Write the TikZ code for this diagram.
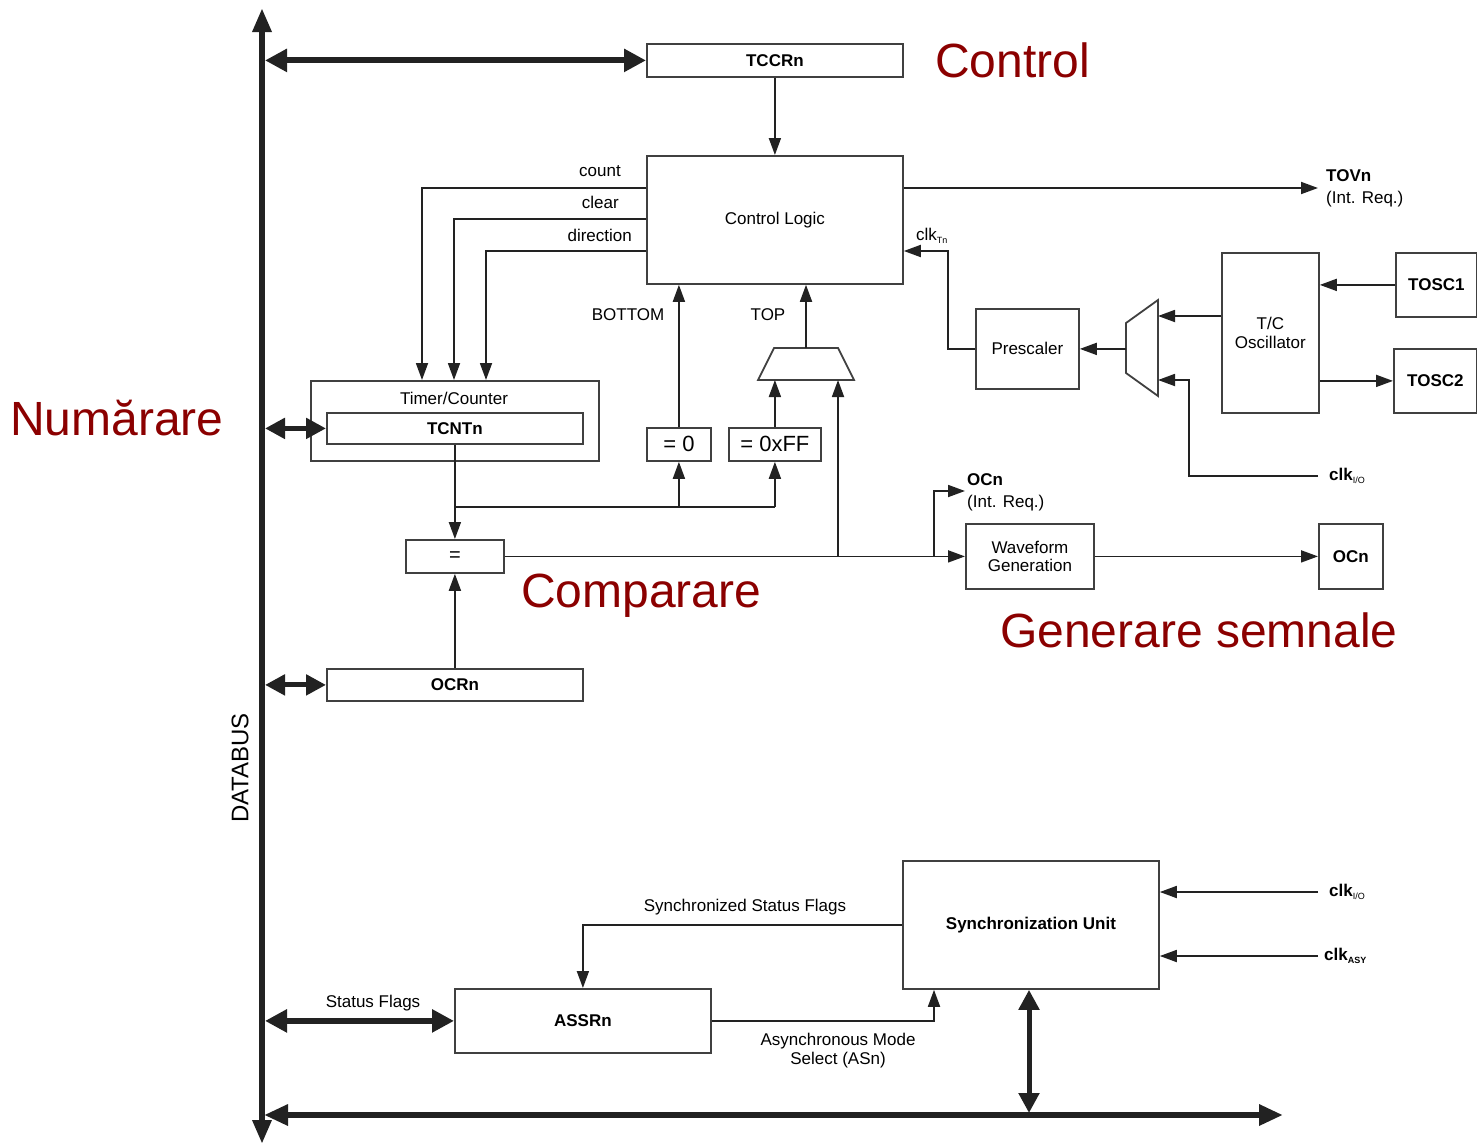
\documentclass[tikz,border=0pt]{standalone}
\usepackage{fontspec}
\setmainfont{Liberation Sans}
\usetikzlibrary{arrows.meta,calc}
\definecolor{dred}{HTML}{8B0000}
\definecolor{ln}{HTML}{404040}
\definecolor{ar}{HTML}{222222}
\begin{document}
\begin{tikzpicture}[x=1pt,y=-1pt,
  lbl/.style={font=\fontsize{17}{20}\selectfont, inner sep=0pt, text=black},
  bl/.style={lbl, font=\fontsize{17}{20}\selectfont\bfseries},
  blk/.style={draw=ln, line width=1.8pt, inner sep=0pt, anchor=north west, lbl, fill=white},
  wire/.style={draw=ar, line width=1.8pt},
  arr/.style={wire, -{Triangle[length=17pt,width=12pt]}},
  busl/.style={draw=ar, line width=6pt},
  bus2/.style={draw=ar, line width=6pt, {Triangle[length=22pt,width=22pt]}-{Triangle[length=22pt,width=22pt]}},
  sbus2/.style={draw=ar, line width=5pt, {Triangle[length=20pt,width=20pt]}-{Triangle[length=20pt,width=20pt]}},
  red/.style={font=\fontsize{48}{52}\selectfont, text=dred, inner sep=0pt, anchor=west}
]
\useasboundingbox (0,0) rectangle (1477,1146);

% ---------------- blocks
\node[blk, bl, minimum width=256pt, minimum height=33pt] (tccr) at (646,43) {TCCRn};
\node[blk, minimum width=256pt, minimum height=128pt] (cl) at (646,155) {Control Logic};
\node[blk, minimum width=288pt, minimum height=80pt] (tc) at (310,380) {};
\node[lbl] (tclbl) at (454,398) {Timer/Counter};
\node[blk, bl, minimum width=256pt, minimum height=31pt] (tcnt) at (326,412) {TCNTn};
\node[blk, font=\fontsize{22}{24}\selectfont, minimum width=64pt, minimum height=33pt] (eqz) at (646,427) {= 0};
\node[blk, font=\fontsize{22}{24}\selectfont, minimum width=92pt, minimum height=33pt] (eqff) at (728,427) {= 0xFF};
\node[blk, font=\fontsize{20}{22}\selectfont, minimum width=98pt, minimum height=33pt] (eq) at (405,539) {=};
\node[blk, bl, minimum width=256pt, minimum height=32pt] (ocr) at (326,668) {OCRn};
\node[blk, align=center, minimum width=128pt, minimum height=65pt] (wg) at (965,523) {Waveform\\[-2pt]Generation};
\node[blk, bl, minimum width=64pt, minimum height=65pt] (ocn) at (1318,523) {OCn};
\node[blk, minimum width=103pt, minimum height=80pt] (pre) at (975,308) {Prescaler};
\node[blk, align=center, minimum width=97pt, minimum height=160pt] (tco) at (1221,252) {T/C\\[-1pt]Oscillator};
\node[blk, bl, minimum width=81pt, minimum height=64pt] (tosc1) at (1395,252) {TOSC1};
\node[blk, bl, minimum width=83pt, minimum height=64pt] (tosc2) at (1393,348) {TOSC2};
\node[blk, bl, minimum width=256pt, minimum height=128pt] (sync) at (902,860) {Synchronization Unit};
\node[blk, bl, minimum width=256pt, minimum height=64pt] (assr) at (454,988) {ASSRn};

% ---------------- muxes
\coordinate (ma) at (1126,323); \coordinate (mb) at (1158,300);
\coordinate (mc) at (1158,396); \coordinate (md) at (1126,373);
\draw[draw=ln, line width=1.8pt, fill=white] (ma) -- (mb) -- (mc) -- (md) -- cycle;
\coordinate (ta) at (774,348); \coordinate (tb) at (838,348);
\coordinate (tcc) at (854,380); \coordinate (td) at (758,380);
\draw[draw=ln, line width=1.8pt, fill=white] (ta) -- (tb) -- (tcc) -- (td) -- cycle;

% ---------------- databus
\coordinate (bustop) at (262,8);
\coordinate (busbot) at (262,1144);
\draw[busl, {Triangle[length=24pt,width=18pt]}-{Triangle[length=24pt,width=18pt]}] (busbot) -- (bustop);
\coordinate (hbl) at (264,1115);
\coordinate (hbr) at (1283,1115);
\draw[busl, {Triangle[length=24pt,width=20pt]}-{Triangle[length=24pt,width=20pt]}] (hbl) -- (hbr);
\node[lbl, font=\fontsize{24}{26}\selectfont, rotate=90] (databus) at (240,768) {DATABUS};

% ---------------- bus connections
\draw[bus2] (tccr.west -| 265,0) -- (tccr.west);
\draw[sbus2] (tcnt.west -| 265,0) -- (tcnt.west);
\draw[sbus2] (ocr.west -| 265,0) -- (ocr.west);
\draw[bus2] (assr.west -| 265,0) -- (assr.west);
\draw[sbus2] (sync.south -| 1029,0) -- (1029,1113);

% ---------------- control
\draw[arr] (tccr) -- (cl);
\draw[arr] (cl.west |- 0,188) -| (tc.north -| 422,0);
\draw[arr] (cl.west |- 0,219) -| (tc.north -| 454,0);
\draw[arr] (cl.west |- 0,251) -| (tc.north -| 486,0);
\node[lbl, anchor=east] (lcount) at (621,171) {count};
\node[lbl, anchor=east] (lclear) at (619,202) {clear};
\node[lbl, anchor=east] (ldir) at (632,235) {direction};

\draw[arr] (cl.east |- 0,188) -- (1318,188);
\node[bl, anchor=west] (tovn) at (1326,176) {TOVn};
\node[lbl, anchor=west] (tovr) at (1326,199) {(Int. Req.)};

\draw[arr] (pre.west) -| (948,251) -- (cl.east |- 0,251);
\node[lbl, anchor=west] (clkt) at (916,236) {clk\textsubscript{\fontsize{9}{9}\selectfont Tn}};

\draw[arr] (pre.east -| ma) -- (pre.east);
\draw[arr] (tco.west |- 0,316) -- (1158,316);
\coordinate (clkio1) at (1318,476);
\draw[arr] (clkio1) -| (1189,380) -- (1158,380);
\node[bl, anchor=west] (lclkio1) at (1329,476) {clk\textsubscript{\fontsize{9}{9}\selectfont\mdseries I/O}};
\draw[arr] (tosc1.west) -- (tco.east |- tosc1.west);
\draw[arr] (tco.east |- tosc2.west) -- (tosc2.west);

% ---------------- top/bottom
\draw[arr] (eqz.north) -- (eqz.north |- cl.south);
\node[lbl] (lbot) at (628,315) {BOTTOM};
\draw[arr] (806,348) -- (cl.south -| 806,0);
\node[lbl] (ltop) at (768,315) {TOP};
\draw[arr] (eqff.north) -- (eqff.north |- td);

% ---------------- counter outputs
\draw[arr] (tcnt.south) -- (eq.north);
\draw[wire] (454,507) -- (eqff.south |- 0,507);
\draw[arr] (eqz.south |- 0,507) -- (eqz.south);
\draw[arr] (eqff.south |- 0,507) -- (eqff.south);
\draw[arr] (eq.east) -- (wg.west);
\draw[arr] (eq.east -| 838,0) -- (838,380);
\draw[arr] (eq.east -| 934,0) |- (965,491);
\node[bl, anchor=west] (locn) at (967,480) {OCn};
\node[lbl, anchor=west] (locr) at (967,503) {(Int. Req.)};
\draw[arr] (ocr.north) -- (eq.south);
\draw[arr] (wg.east) -- (ocn.west);

% ---------------- sync
\coordinate (clkio2) at (1318,892);
\coordinate (clkasy) at (1318,956);
\draw[arr] (clkio2) -- (sync.east |- clkio2);
\draw[arr] (clkasy) -- (sync.east |- clkasy);
\node[bl, anchor=west] (lclkio2) at (1329,892) {clk\textsubscript{\fontsize{9}{9}\selectfont\mdseries I/O}};
\node[bl, anchor=west] (lclkasy) at (1324,956) {clk\textsubscript{\fontsize{9}{9}\selectfont ASY}};
\draw[arr] (sync.west) -| (assr.north);
\node[lbl] (lssf) at (745,907) {Synchronized Status Flags};
\node[lbl] (lsf) at (373,1003) {Status Flags};
\draw[arr] (assr.east) -| (sync.south -| 934,0);
\node[lbl, align=center] (lasm) at (838,1051) {Asynchronous Mode\\[-1pt]Select (ASn)};

% ---------------- red titles
\node[red] (tctrl) at (935,60) {Control};
\node[red] (tnum) at (10,418) {Numărare};
\node[red] (tcmp) at (521,596) {Comparare};
\node[red] (tgen) at (1000,630) {Generare semnale};
\end{tikzpicture}
\end{document}
